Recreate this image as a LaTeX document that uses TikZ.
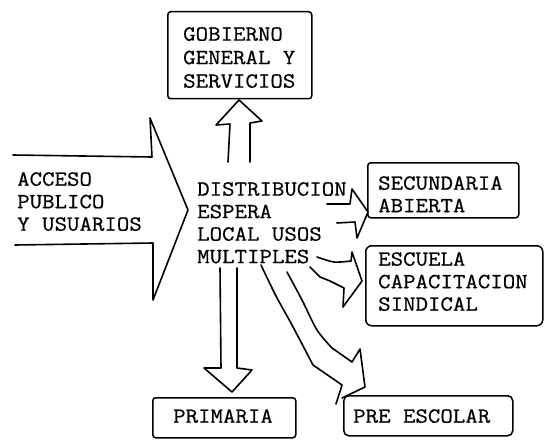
\documentclass[tikz,border=0pt]{standalone}
\usepackage{fontspec}
\setmonofont{Latin Modern Mono}[FakeStretch=1.12,FakeBold=0.6]
\begin{document}
\begin{tikzpicture}[x=1pt,y=-1pt]
\tikzset{
  lbl/.style={font=\ttfamily\fontsize{21.6}{22.5}\selectfont, anchor=north west, inner sep=0pt, align=left},
  boxshape/.style={draw, line width=1.5pt, rounded corners=3pt, anchor=north west, inner sep=0pt},
  stroke/.style={line width=1.6pt, line join=round, line cap=round}
}
\useasboundingbox[fill=white] (0,0) rectangle (544,444);
% boxes
\node[boxshape, minimum width=144pt, minimum height=87pt] (gobbox) at (167,11) {};
\node[boxshape, minimum width=151pt, minimum height=55pt] (secbox) at (367,162) {};
\node[boxshape, minimum width=177pt, minimum height=80pt, rounded corners=6pt] (escbox) at (365,245) {};
\node[boxshape, minimum width=143pt, minimum height=40pt] (pribox) at (152,397) {};
\node[boxshape, minimum width=169pt, minimum height=40pt, rounded corners=5pt] (prebox) at (343,395) {};
% texts
\node[lbl, font=\ttfamily\fontsize{21.6}{23.5}\selectfont] (gob) at (183,27) {GOBIERNO\\GENERAL Y\\SERVICIOS};
\node[lbl] (acc) at (17,172) {ACCESO\\PUBLICO\\Y USUARIOS};
\node[lbl] (dist) at (197,182) {DISTRIBUCION\\ESPERA\\LOCAL USOS\\MULTIPLES};
\node[lbl] (sec) at (378,176) {SECUNDARIA\\ABIERTA};
\node[lbl] (esc) at (378,252) {ESCUELA\\CAPACITACION\\SINDICAL};
\node[lbl] (pri) at (173,409) {PRIMARIA};
\node[lbl] (pre) at (353,409) {PRE ESCOLAR};
% big entry arrow
\draw[stroke] (13,155) -- (152,157) -- (150,118) -- (188,210) -- (153,300) -- (153,243) -- (15,245);
% up arrow to gobierno
\draw[stroke] (228,162) -- (230,124) -- (216,125) -- (239,100) -- (262,121) -- (250,123) -- (250,162);
% down arrow to primaria
\draw[stroke] (220,268) -- (221,368) -- (204,368) -- (232,392) -- (252,370) -- (237,368) -- (237,268);
% arrow to secundaria
\draw[stroke] (327,204) -- (350,204) -- (352,189) -- (368,212) -- (357,238) -- (355,222) -- (337,223);
% arrow to escuela
\draw[stroke] plot[smooth] coordinates {(317,257) (334,262) (351,261)} -- (352,252) -- (362,281) -- (343,307) -- (344,288) -- (330,281) -- (320,277) -- (310,267);
% arrow to pre escolar
\draw[stroke] plot[smooth] coordinates {(261,265) (276,296) (292,325) (313,365)} -- (342,385) -- (336,404);
\draw[stroke] plot[smooth] coordinates {(287,272) (302,300) (317,330) (332,348)} -- (352,362) -- (360,349) -- (365,387) -- (342,398);
\end{tikzpicture}
\end{document}
